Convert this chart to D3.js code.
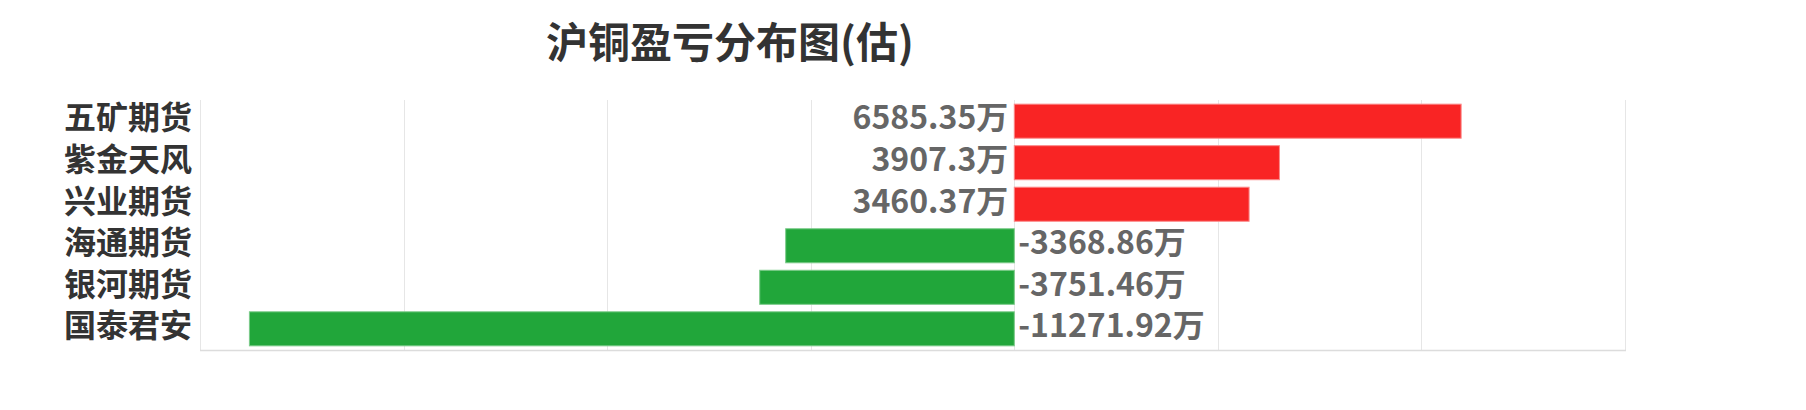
<!DOCTYPE html>
<html>
<head>
<meta charset="utf-8">
<script src="https://cdn.jsdelivr.net/npm/d3@7"></script>
<style>
  html, body { margin: 0; padding: 0; background: #fff; }
  svg { display: block; }
  text { font-family: "Noto Sans CJK SC", "Microsoft YaHei", sans-serif; font-weight: bold; }
</style>
</head>
<body>
<svg id="chart" width="1806" height="410"></svg>
<script>
const title = "沪铜盈亏分布图(估)";
const categories = ["五矿期货", "紫金天风", "兴业期货", "海通期货", "银河期货", "国泰君安"];
const values = [6585.35, 3907.3, 3460.37, -3368.86, -3751.46, -11271.92];
const valueLabels = ["6585.35万", "3907.3万", "3460.37万", "-3368.86万", "-3751.46万", "-11271.92万"];
const xDomain = [-12000, 9000];
const xTicks = [-12000, -9000, -6000, -3000, 0, 3000, 6000, 9000];

const svg = d3.select("#chart");
const margin = { left: 200, right: 181, top: 100, bottom: 60 };
const W = 1806, H = 410;

const x = d3.scaleLinear().domain(xDomain).range([margin.left, W - margin.right]);
const y = d3.scaleBand().domain(categories).range([margin.top, H - margin.bottom])
  .paddingInner(0.18).paddingOuter(0.1);

// gridlines
svg.append("g").selectAll("line").data(xTicks).join("line")
  .attr("x1", d => Math.round(x(d)) + 0.5).attr("x2", d => Math.round(x(d)) + 0.5)
  .attr("y1", margin.top).attr("y2", H - margin.bottom)
  .attr("stroke", "#e6e6e6").attr("stroke-width", 1);

// bottom axis line
svg.append("line")
  .attr("x1", margin.left).attr("x2", W - margin.right + 1)
  .attr("y1", H - margin.bottom + 0.5).attr("y2", H - margin.bottom + 0.5)
  .attr("stroke", "#dcdcdc").attr("stroke-width", 1.5);

// bars
svg.append("g").selectAll("rect").data(values).join("rect")
  .attr("x", d => x(Math.min(0, d)))
  .attr("width", d => Math.abs(x(d) - x(0)))
  .attr("y", (d, i) => y(categories[i]))
  .attr("height", y.bandwidth())
  .attr("fill", d => d >= 0 ? "#f92424" : "#21a63a")
  .attr("stroke", d => d >= 0 ? "#fb8a8a" : "#7ccb8a")
  .attr("stroke-width", 1);

// category labels
svg.append("g").selectAll("text").data(categories).join("text")
  .attr("x", margin.left - 8)
  .attr("y", d => y(d) + y.bandwidth() / 2)
  .attr("dy", "0.26em")
  .attr("text-anchor", "end")
  .attr("font-size", 32)
  .attr("fill", "#333")
  .text(d => d);

// value labels
svg.append("g").selectAll("text").data(values).join("text")
  .attr("x", d => d >= 0 ? x(0) - 6 : x(0) + 4)
  .attr("y", (d, i) => y(categories[i]) + y.bandwidth() / 2)
  .attr("dy", "0.26em")
  .attr("text-anchor", d => d >= 0 ? "end" : "start")
  .attr("font-size", 32)
  .attr("fill", "#666")
  .text((d, i) => valueLabels[i]);

// title
svg.append("text")
  .attr("x", 730).attr("y", 58)
  .attr("text-anchor", "middle")
  .attr("font-size", 42)
  .attr("fill", "#333")
  .text(title);
</script>
</body>
</html>
